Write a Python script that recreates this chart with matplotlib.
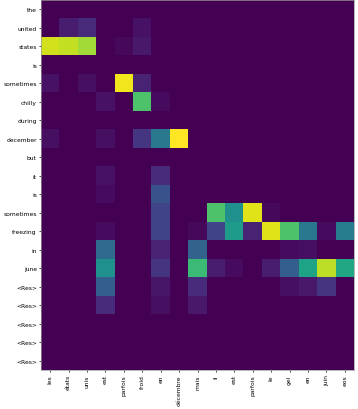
import numpy as np
import matplotlib
matplotlib.use("Agg")
import matplotlib.pyplot as plt

# source (rows) and target (columns) tokens
src_tokens = ["the", "united", "states", "is", "sometimes", "chilly", "during",
              "december", "but", "it", "is", "sometimes", "freezing", "in",
              "june", "<Res>", "<Res>", "<Res>", "<Res>", "<Res>"]
tgt_tokens = ["les", "états", "unis", "est", "parfois", "froid", "en", "décembre",
              "mais", "il", "est", "parfois", "le", "gel", "en", "juin", "eos"]

# attention weights, one list per source row (17 target columns)
row_the       = [0.00, 0.00, 0.00, 0.00, 0.00, 0.00, 0.00, 0.00, 0.00, 0.00, 0.00, 0.00, 0.00, 0.00, 0.00, 0.00, 0.00]
row_united    = [0.00, 0.08, 0.12, 0.00, 0.00, 0.05, 0.00, 0.00, 0.00, 0.00, 0.00, 0.00, 0.00, 0.00, 0.00, 0.00, 0.00]
row_states    = [0.93, 0.91, 0.86, 0.00, 0.02, 0.07, 0.00, 0.00, 0.00, 0.00, 0.00, 0.00, 0.00, 0.00, 0.00, 0.00, 0.00]
row_is        = [0.00, 0.00, 0.00, 0.00, 0.00, 0.00, 0.00, 0.00, 0.00, 0.00, 0.00, 0.00, 0.00, 0.00, 0.00, 0.00, 0.00]
row_sometimes = [0.05, 0.00, 0.04, 0.00, 0.98, 0.10, 0.00, 0.00, 0.00, 0.00, 0.00, 0.00, 0.00, 0.00, 0.00, 0.00, 0.00]
row_chilly    = [0.00, 0.00, 0.00, 0.05, 0.00, 0.72, 0.03, 0.00, 0.00, 0.00, 0.00, 0.00, 0.00, 0.00, 0.00, 0.00, 0.00]
row_during    = [0.00, 0.00, 0.00, 0.00, 0.00, 0.00, 0.00, 0.00, 0.00, 0.00, 0.00, 0.00, 0.00, 0.00, 0.00, 0.00, 0.00]
row_december  = [0.04, 0.00, 0.00, 0.04, 0.00, 0.16, 0.40, 1.00, 0.00, 0.00, 0.00, 0.00, 0.00, 0.00, 0.00, 0.00, 0.00]
row_but       = [0.00, 0.00, 0.00, 0.00, 0.00, 0.00, 0.00, 0.00, 0.00, 0.00, 0.00, 0.00, 0.00, 0.00, 0.00, 0.00, 0.00]
row_it        = [0.00, 0.00, 0.00, 0.05, 0.00, 0.00, 0.12, 0.00, 0.00, 0.00, 0.00, 0.00, 0.00, 0.00, 0.00, 0.00, 0.00]
row_is2       = [0.00, 0.00, 0.00, 0.03, 0.00, 0.00, 0.25, 0.00, 0.00, 0.00, 0.00, 0.00, 0.00, 0.00, 0.00, 0.00, 0.00]
row_sometime2 = [0.00, 0.00, 0.00, 0.00, 0.00, 0.00, 0.20, 0.00, 0.00, 0.72, 0.50, 0.95, 0.02, 0.00, 0.00, 0.00, 0.00]
row_freezing  = [0.00, 0.00, 0.00, 0.03, 0.00, 0.00, 0.20, 0.00, 0.02, 0.20, 0.55, 0.10, 0.95, 0.72, 0.40, 0.03, 0.42]
row_in        = [0.00, 0.00, 0.00, 0.35, 0.00, 0.00, 0.10, 0.00, 0.32, 0.00, 0.00, 0.00, 0.00, 0.03, 0.04, 0.00, 0.00]
row_june      = [0.00, 0.00, 0.00, 0.50, 0.00, 0.00, 0.15, 0.00, 0.68, 0.08, 0.03, 0.00, 0.08, 0.30, 0.58, 0.90, 0.60]
row_res1      = [0.00, 0.00, 0.00, 0.30, 0.00, 0.00, 0.06, 0.00, 0.12, 0.00, 0.00, 0.00, 0.00, 0.04, 0.07, 0.15, 0.00]
row_res2      = [0.00, 0.00, 0.00, 0.12, 0.00, 0.00, 0.04, 0.00, 0.07, 0.00, 0.00, 0.00, 0.00, 0.00, 0.00, 0.00, 0.00]
row_res3      = [0.00] * 17
row_res4      = [0.00] * 17
row_res5      = [0.00] * 17

attention = np.array([row_the, row_united, row_states, row_is, row_sometimes,
                      row_chilly, row_during, row_december, row_but, row_it,
                      row_is2, row_sometime2, row_freezing, row_in, row_june,
                      row_res1, row_res2, row_res3, row_res4, row_res5])

fig = plt.figure(figsize=(3.58, 4.10), dpi=100)
ax = fig.add_axes([41 / 358, 39 / 410, 313 / 358, 370 / 410])
ax.imshow(attention, cmap="viridis", vmin=0, vmax=1, aspect="auto",
          interpolation="nearest")

ax.set_xticks(range(len(tgt_tokens)))
ax.set_xticklabels(tgt_tokens, rotation=90, fontsize=4.3)
ax.set_yticks(range(len(src_tokens)))
ax.set_yticklabels(src_tokens, fontsize=4.3)
ax.tick_params(length=1.5, width=0.5, pad=1.5)
for spine in ax.spines.values():
    spine.set_linewidth(0.5)
    spine.set_color("#999999")

fig.savefig("out.png", dpi=100)
plt.close(fig)
